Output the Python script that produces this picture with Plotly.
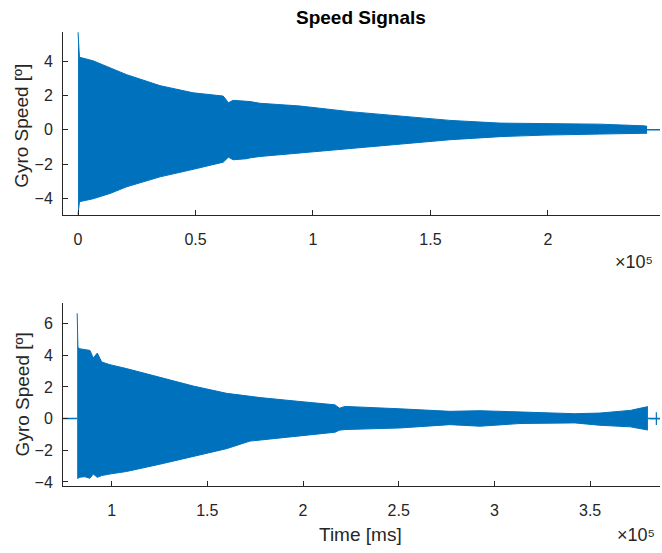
import plotly.graph_objects as go

# ---- Sensor 1: gyro speed envelope (time in ms, speed in degrees) ----
t1 = [0, 600, 6400, 13600, 20700, 34900, 49000, 61800, 64000, 66000,
      71800, 73200, 77400, 94500, 115700, 137000, 158300, 179600,
      198700, 222000, 241000, 242200]
upper1 = [5.7, 4.24, 4.03, 3.6, 3.22, 2.58, 2.16, 1.97, 1.58, 1.72,
          1.68, 1.65, 1.55, 1.39, 1.06, 0.81, 0.55, 0.39,
          0.37, 0.33, 0.23, 0.2]
lower1 = [-4.95, -4.2, -4.03, -3.72, -3.33, -2.75, -2.31, -1.89, -1.6, -1.75,
          -1.69, -1.64, -1.56, -1.35, -1.06, -0.83, -0.58, -0.4,
          -0.31, -0.25, -0.21, -0.2]
tail1_t = [242200, 247700]
tail1_v = [0, 0]

# ---- Sensor 2: gyro speed envelope ----
t2 = [82000, 82400, 83400, 86000, 88700, 90400, 92500, 94800, 99100,
      107800, 125200, 142600, 160000, 172300, 177500, 198400, 216700,
      219000, 222000, 250600, 271500, 276800, 292500, 313300, 342000,
      355000, 371000, 379000, 380200]
upper2 = [6.66, 4.5, 4.41, 4.38, 4.31, 3.83, 4.14, 3.58, 3.41,
          3.16, 2.6, 2.06, 1.6, 1.39, 1.33, 1.08, 0.87,
          0.66, 0.77, 0.62, 0.46, 0.46, 0.5, 0.41, 0.31,
          0.35, 0.52, 0.73, 0.75]
lower2 = [-3.77, -3.77, -3.7, -3.67, -3.77, -3.5, -3.71, -3.6, -3.5,
          -3.34, -2.88, -2.4, -1.9, -1.42, -1.36, -1.1, -0.86,
          -0.73, -0.69, -0.59, -0.44, -0.38, -0.48, -0.31, -0.27,
          -0.42, -0.52, -0.69, -0.72]
lead2_t = [74600, 82000]
lead2_v = [0, 0]
tail2_t = [380200, 386500]
tail2_v = [0, 0]
marker2_t = [384600]
marker2_v = [0]

# ---- Axis ticks ----
xticks1 = [0, 50000, 100000, 150000, 200000]
xlabels1 = ["0", "0.5", "1", "1.5", "2"]
xticks2 = [100000, 150000, 200000, 250000, 300000, 350000]
xlabels2 = ["1", "1.5", "2", "2.5", "3", "3.5"]
yticks1 = [-4, -2, 0, 2, 4]
yticks2 = [-4, -2, 0, 2, 4, 6]

BLUE = "#0072BD"
AXC = "#262626"
FONT = "Liberation Sans, Arial, Helvetica, sans-serif"

fig = go.Figure()


def add_band(t, lo, hi, xa, ya):
    fig.add_trace(go.Scatter(x=t, y=lo, mode="lines", line=dict(color=BLUE, width=1),
                             xaxis=xa, yaxis=ya, showlegend=False, hoverinfo="skip"))
    fig.add_trace(go.Scatter(x=t, y=hi, mode="lines", line=dict(color=BLUE, width=1),
                             fill="tonexty", fillcolor=BLUE,
                             xaxis=xa, yaxis=ya, showlegend=False, hoverinfo="skip"))


def add_line(t, v, xa, ya):
    fig.add_trace(go.Scatter(x=t, y=v, mode="lines", line=dict(color=BLUE, width=1.5),
                             xaxis=xa, yaxis=ya, showlegend=False, hoverinfo="skip"))


add_band(t1, lower1, upper1, "x", "y")
add_line(tail1_t, tail1_v, "x", "y")

add_line(lead2_t, lead2_v, "x2", "y2")
add_band(t2, lower2, upper2, "x2", "y2")
add_line(tail2_t, tail2_v, "x2", "y2")
fig.add_trace(go.Scatter(x=marker2_t, y=marker2_v, mode="markers",
                         marker=dict(symbol="cross-thin", size=9,
                                     line=dict(color=BLUE, width=1.2)),
                         xaxis="x2", yaxis="y2", showlegend=False, hoverinfo="skip"))

W, H = 662, 553
xdom = [63 / W, 660 / W]
y1dom = [(H - 217) / H, (H - 32) / H]
y2dom = [(H - 490) / H, (H - 306) / H]

axis_common = dict(showline=True, linecolor=AXC, linewidth=1, ticks="inside",
                   ticklen=5, tickcolor=AXC, tickwidth=1, showgrid=False,
                   zeroline=False, mirror=False,
                   tickfont=dict(family=FONT, size=16, color=AXC))

fig.update_layout(
    width=W, height=H,
    margin=dict(l=0, r=0, t=0, b=0),
    paper_bgcolor="white", plot_bgcolor="white",
    xaxis=dict(domain=xdom, range=[-6400, 247700], tickvals=xticks1, ticktext=xlabels1,
               anchor="y", ticklabelstandoff=10, **axis_common),
    yaxis=dict(domain=y1dom, range=[-4.98, 5.73], tickvals=yticks1, anchor="x",
               ticklabelstandoff=6, **axis_common),
    xaxis2=dict(domain=xdom, range=[74600, 386500], tickvals=xticks2, ticktext=xlabels2,
                anchor="y2", ticklabelstandoff=10, **axis_common),
    yaxis2=dict(domain=y2dom, range=[-4.23, 7.29], tickvals=yticks2, anchor="x2",
                ticklabelstandoff=6, **axis_common),
)

ann_font = dict(family=FONT, size=19, color=AXC)
fig.add_annotation(text="<b>Speed Signals</b>", x=361 / W, y=1 - 18 / H, xref="paper",
                   yref="paper", showarrow=False, xanchor="center", yanchor="middle",
                   font=dict(family=FONT, size=19, color="black"))
fig.add_annotation(text="Gyro Speed [º]", x=22 / W, y=1 - 127 / H, xref="paper",
                   yref="paper", showarrow=False, textangle=-90,
                   xanchor="center", yanchor="middle", font=ann_font)
fig.add_annotation(text="Gyro Speed [º]", x=22 / W, y=1 - 398 / H, xref="paper",
                   yref="paper", showarrow=False, textangle=-90,
                   xanchor="center", yanchor="middle", font=ann_font)
fig.add_annotation(text="Time [ms]", x=361 / W, y=1 - 539 / H, xref="paper",
                   yref="paper", showarrow=False, xanchor="center", yanchor="middle",
                   font=ann_font)
fig.add_annotation(text="×10⁵", x=634 / W, y=1 - 264 / H, xref="paper",
                   yref="paper", showarrow=False, xanchor="center", yanchor="middle",
                   font=dict(family=FONT, size=18, color=AXC))
fig.add_annotation(text="×10⁵", x=636 / W, y=1 - 540 / H, xref="paper",
                   yref="paper", showarrow=False, xanchor="center", yanchor="middle",
                   font=dict(family=FONT, size=18, color=AXC))

fig.write_html("out.html")
